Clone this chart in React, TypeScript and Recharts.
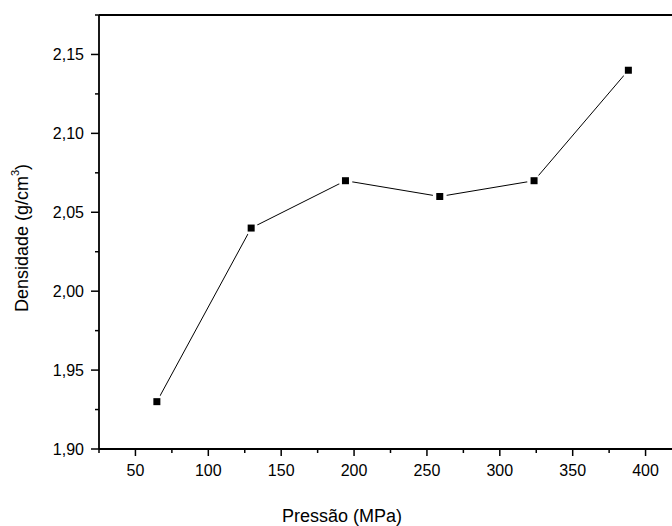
import React from 'react';
import { LineChart, Line, XAxis, YAxis, ReferenceLine } from 'recharts';

const pressure = [64.7, 129.4, 194.1, 258.8, 323.5, 388.2];
const density = [1.93, 2.04, 2.07, 2.06, 2.07, 2.14];

const xMajor = [50, 100, 150, 200, 250, 300, 350, 400];
const xMinor = [25, 75, 125, 175, 225, 275, 325, 375, 425];
const yMajor = [1.9, 1.95, 2.0, 2.05, 2.1, 2.15];
const yMinor = [1.925, 1.975, 2.025, 2.075, 2.125, 2.175];
const xDomain = [25, 425];
const yDomain = [1.9, 2.175];

const data = pressure.map((p, i) => ({ p, d: density[i] }));

const FONT = "'Liberation Sans', Arial, sans-serif";
const TICK = 6;
const GAP = 4;
const AXIS = { stroke: '#000', strokeWidth: 1.8 };

const isMajor = (list: number[], v: number) => list.some((m) => Math.abs(m - v) < 1e-6);

const XTick = (props: any) => {
  const { x, y, payload } = props;
  const axisY = y - TICK - GAP;
  const major = isMajor(xMajor, payload.value);
  return (
    <g>
      <line x1={x} x2={x} y1={axisY} y2={axisY + (major ? 7 : 4)} stroke="#000" strokeWidth={1.5} />
      {major && (
        <text x={x} y={axisY + 27} textAnchor="middle" fontSize={16} fontFamily={FONT} fill="#000">
          {payload.value}
        </text>
      )}
    </g>
  );
};

const YTick = (props: any) => {
  const { x, y, payload } = props;
  const axisX = x + TICK + GAP;
  const major = isMajor(yMajor, payload.value);
  return (
    <g>
      <line x1={axisX} x2={axisX - (major ? 8 : 4)} y1={y} y2={y} stroke="#000" strokeWidth={1.5} />
      {major && (
        <text x={axisX - 15} y={y} dy="0.36em" textAnchor="end" fontSize={16} fontFamily={FONT} fill="#000">
          {payload.value.toFixed(2).replace('.', ',')}
        </text>
      )}
    </g>
  );
};

const XTitle = (props: any) => {
  const { x, y } = props.viewBox;
  return (
    <text x={x + 243} y={y + 73} textAnchor="middle" fontSize={18} fontFamily={FONT} fill="#000">
      Pressão (MPa)
    </text>
  );
};

const YTitle = (props: any) => {
  const { x, y, height } = props.viewBox;
  const cx = x + 12;
  const cy = y + height / 2 + 6;
  return (
    <text
      x={cx}
      y={cy}
      transform={`rotate(-90 ${cx} ${cy})`}
      textAnchor="middle"
      dominantBaseline="central"
      fontSize={18}
      fontFamily={FONT}
      fill="#000"
    >
      Densidade (g/cm
      <tspan fontSize={11} dy={-7}>3</tspan>
      <tspan dy={7}>)</tspan>
    </text>
  );
};

const Marker = (props: any) => {
  const { cx, cy, index } = props;
  return (
    <g key={`m-${index}`}>
      <circle cx={cx} cy={cy} r={7} fill="#fff" />
      <rect x={cx - 3.5} y={cy - 3.5} width={7} height={7} fill="#000" />
    </g>
  );
};

export default function App() {
  return (
    <div style={{ position: 'absolute', left: 0, top: 0, width: 672, height: 526, overflow: 'hidden', background: '#fff' }}>
      <LineChart width={700} height={526} data={data} margin={{ top: 15, right: 18, bottom: 10, left: 10 }}>
        <XAxis
          dataKey="p"
          type="number"
          domain={xDomain}
          ticks={[...xMinor, ...xMajor].sort((a, b) => a - b)}
          interval={0}
          allowDataOverflow
          height={67}
          tickSize={TICK}
          tickMargin={GAP}
          tickLine={false}
          tick={<XTick />}
          axisLine={AXIS}
          label={<XTitle />}
        />
        <YAxis
          type="number"
          domain={yDomain}
          ticks={[...yMajor, ...yMinor].sort((a, b) => a - b)}
          interval={0}
          allowDataOverflow
          width={89}
          tickSize={TICK}
          tickMargin={GAP}
          tickLine={false}
          tick={<YTick />}
          axisLine={AXIS}
          label={<YTitle />}
        />
        <ReferenceLine y={yDomain[1]} stroke="#000" strokeWidth={1.8} ifOverflow="visible" />
        <ReferenceLine x={xDomain[1]} stroke="#000" strokeWidth={1.8} ifOverflow="visible" />
        <Line
          type="linear"
          dataKey="d"
          stroke="#000"
          strokeWidth={1}
          dot={Marker}
          activeDot={false}
          isAnimationActive={false}
        />
      </LineChart>
    </div>
  );
}
